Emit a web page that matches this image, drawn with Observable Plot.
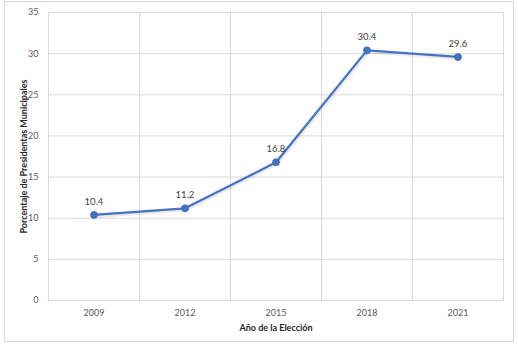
<!DOCTYPE html>
<html><head><meta charset="utf-8">
<script src="https://cdn.jsdelivr.net/npm/d3@7"></script>
<script src="https://cdn.jsdelivr.net/npm/@observablehq/plot@0.6"></script>
<style>
body{margin:0;background:#fff;}
#frame{position:absolute;left:4px;top:1px;width:508px;height:339px;border:1px solid #d9d9d9;}
#chart{position:absolute;left:0;top:0;}
g[aria-label="y-axis label"] text, g[aria-label="x-axis label"] text{font-weight:bold;fill:#262626;}
</style>
</head><body>
<div id="frame"></div>
<div id="chart"></div>
<script>
const years = [2009, 2012, 2015, 2018, 2021];
const values = [10.4, 11.2, 16.8, 30.4, 29.6];
const yTicks = [0, 5, 10, 15, 20, 25, 30, 35];
const data = years.map((year, i) => ({year, value: values[i]}));
const step = years[1] - years[0];
const edges = [...years.map(y => y - step / 2), years[years.length - 1] + step / 2];

const chart = Plot.plot({
  width: 518, height: 346,
  marginLeft: 48, marginRight: 15, marginTop: 12, marginBottom: 46,
  style: {fontFamily: "Lato, 'Open Sans', sans-serif", fontSize: "9px", color: "#595959", background: "transparent", overflow: "visible"},
  x: {domain: [edges[0], edges[edges.length - 1]], ticks: years, tickFormat: d => String(d)},
  y: {domain: [0, 35], ticks: yTicks},
  marks: [
    Plot.ruleY(yTicks, {stroke: "#d9d9d9", strokeWidth: 1}),
    Plot.ruleX(edges, {stroke: "#d9d9d9", strokeWidth: 1}),
    Plot.axisY({ticks: yTicks, tickSize: 0, tickPadding: 10, label: "Porcentaje de Presidentas Municipales", labelAnchor: "center", labelArrow: "none", labelOffset: 28, fill: "#595959", fontSize: 9}),
    Plot.axisX({ticks: years, tickSize: 0, tickPadding: 9, tickFormat: d => String(d), label: "Año de la Elección", labelAnchor: "center", labelArrow: "none", labelOffset: 30, fill: "#595959", fontSize: 9}),
    Plot.line(data, {x: "year", y: "value", stroke: "#000", strokeOpacity: 0.08, strokeWidth: 3.5, dx: 1, dy: 1.5}),
    Plot.line(data, {x: "year", y: "value", stroke: "#4472C4", strokeWidth: 2.25}),
    Plot.dot(data, {x: "year", y: "value", r: 3.5, fill: "#4472C4", stroke: "#3b64ad", strokeWidth: 0.75}),
    Plot.text(data, {x: "year", y: "value", text: d => d.value.toFixed(1), dy: -13, fill: "#404040", fontSize: 9.5})
  ]
});
document.getElementById("chart").appendChild(chart);
</script>
</body></html>
